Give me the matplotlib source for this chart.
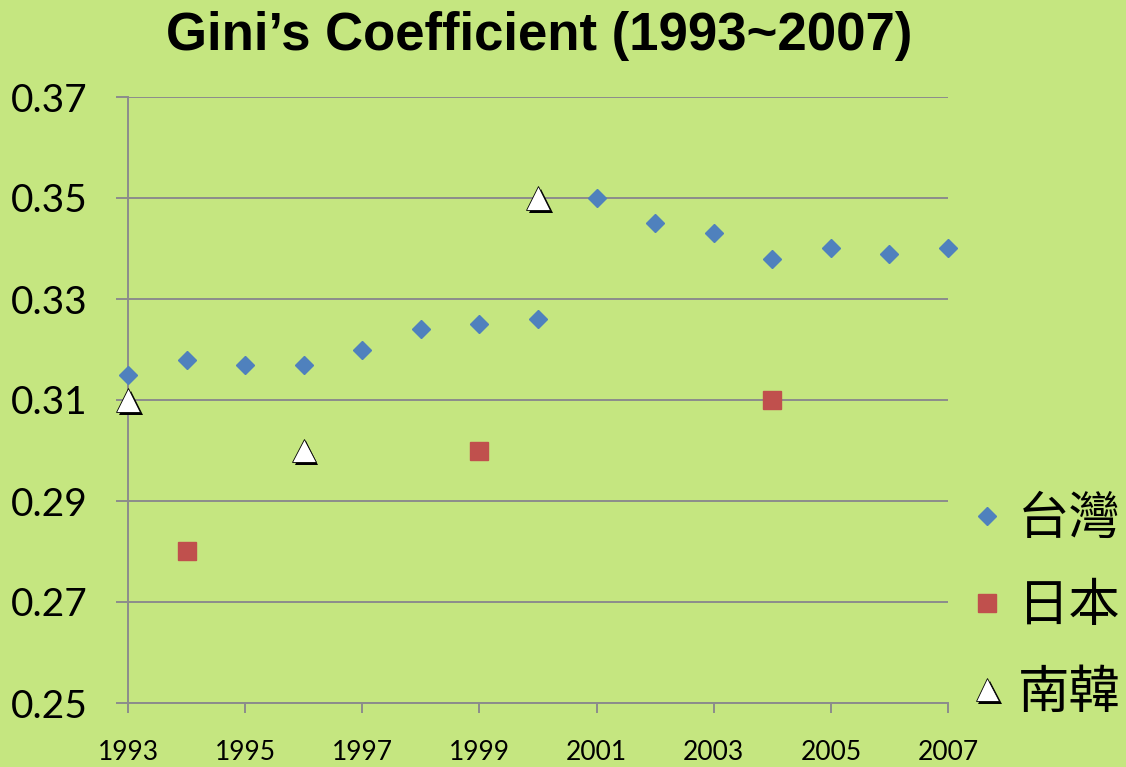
import matplotlib
matplotlib.use("Agg")
import matplotlib.pyplot as plt
import matplotlib.patheffects as pe

# Gini coefficient values
years_tw = [1993, 1994, 1995, 1996, 1997, 1998, 1999, 2000,
            2001, 2002, 2003, 2004, 2005, 2006, 2007]
gini_tw = [0.315, 0.318, 0.317, 0.317, 0.320, 0.324, 0.325, 0.326,
           0.350, 0.345, 0.343, 0.338, 0.340, 0.339, 0.340]

years_jp = [1994, 1999, 2004]
gini_jp = [0.28, 0.30, 0.31]

years_kr = [1993, 1996, 2000]
gini_kr = [0.31, 0.30, 0.35]

labels = ["台灣", "日本", "南韓"]
x_ticks = [1993, 1995, 1997, 1999, 2001, 2003, 2005, 2007]
y_ticks = [0.25, 0.27, 0.29, 0.31, 0.33, 0.35, 0.37]

bg = "#C5E680"
grid_col = "#8C8C8C"

fig = plt.figure(figsize=(11.26, 7.67), dpi=100, facecolor=bg)
ax = fig.add_axes([128 / 1126, 1 - 703 / 767, 820 / 1126, 606 / 767])
ax.set_facecolor(bg)

ax.plot(years_tw, gini_tw, linestyle="none", marker="D", markersize=9.5,
        color="#4F81BD", label=labels[0], zorder=3, clip_on=False)
ax.plot(years_jp, gini_jp, linestyle="none", marker="s", markersize=13.5,
        color="#C0504D", label=labels[1], zorder=3, clip_on=False)
ax.plot(years_kr, gini_kr, linestyle="none", marker="^", markersize=17,
        markerfacecolor="white", markeredgecolor="black", markeredgewidth=0.6,
        label=labels[2], zorder=4, clip_on=False,
        path_effects=[pe.SimplePatchShadow(offset=(2, -2),
                                           shadow_rgbFace="black", alpha=1),
                      pe.Normal()])

ax.set_xlim(1993, 2007)
ax.set_ylim(0.25, 0.37)
ax.set_xticks(x_ticks)
ax.set_yticks(y_ticks)
ax.set_xticklabels([str(y) for y in x_ticks], fontfamily="Lato", fontsize=19)
ax.set_yticklabels([f"{v:.2f}" for v in y_ticks], fontfamily="Lato", fontsize=28)

ax.grid(axis="y", color=grid_col, linewidth=1.4)
ax.set_axisbelow(True)
for side in ["top", "right"]:
    ax.spines[side].set_visible(False)
for side in ["left", "bottom"]:
    ax.spines[side].set_color(grid_col)
    ax.spines[side].set_linewidth(1.4)
ax.tick_params(axis="y", length=9, width=1.4, color=grid_col, pad=20)
ax.tick_params(axis="x", length=7, width=1.4, color=grid_col, pad=20)

fig.text(539 / 1126, 1 - 36 / 767, "Gini\u2019s Coefficient (1993~2007)",
         ha="center", va="center", fontsize=38, fontweight="bold",
         fontfamily="Liberation Sans")

ax.legend(loc="center left", bbox_to_anchor=(972 / 1126, 1 - 606 / 767),
          bbox_transform=fig.transFigure, frameon=False,
          prop={"family": ["Noto Sans CJK TC", "DejaVu Sans"], "size": 37},
          handlelength=0.6, handletextpad=0.3, borderpad=0, borderaxespad=0,
          labelspacing=0.65)

fig.savefig("out.png", dpi=100, facecolor=bg)
